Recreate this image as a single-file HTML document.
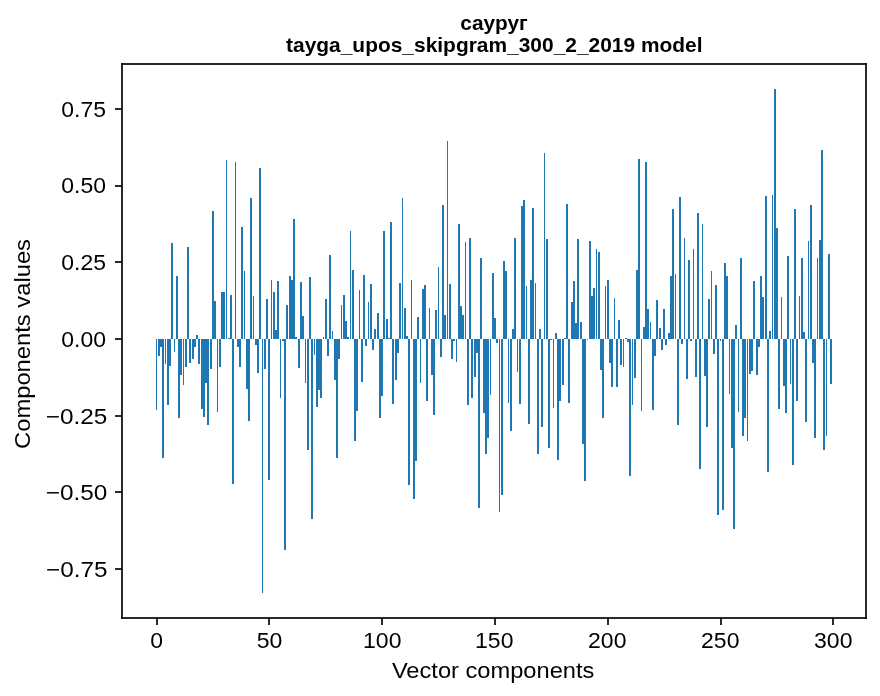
<!DOCTYPE html>
<html><head><meta charset="utf-8"><title>сауруг tayga_upos_skipgram_300_2_2019 model</title><style>
html,body{margin:0;padding:0;background:#fff;overflow:hidden;}
svg{display:block;will-change:transform;}
text{font-family:"Liberation Sans",sans-serif;fill:#000;}
.b{font-weight:bold;}
</style></head><body>
<svg width="880" height="696" viewBox="0 0 880 696">
<rect x="0" y="0" width="880" height="696" fill="#fff"/>
<g fill="#1f77b4" shape-rendering="crispEdges"><rect x="156" y="339" width="1" height="71"/><rect x="158" y="339" width="2" height="17"/><rect x="160" y="339" width="2" height="8"/><rect x="162" y="339" width="2" height="119"/><rect x="165" y="339" width="1" height="25"/><rect x="167" y="339" width="2" height="66"/><rect x="169" y="339" width="2" height="27"/><rect x="171" y="243" width="2" height="96"/><rect x="174" y="339" width="1" height="13"/><rect x="176" y="276" width="2" height="63"/><rect x="178" y="339" width="2" height="79"/><rect x="180" y="339" width="2" height="36"/><rect x="183" y="339" width="1" height="46"/><rect x="185" y="339" width="2" height="28"/><rect x="187" y="247" width="2" height="92"/><rect x="189" y="339" width="2" height="24"/><rect x="192" y="339" width="2" height="20"/><rect x="194" y="339" width="2" height="8"/><rect x="196" y="335" width="2" height="4"/><rect x="198" y="339" width="2" height="25"/><rect x="201" y="339" width="2" height="70"/><rect x="203" y="339" width="2" height="78"/><rect x="205" y="339" width="2" height="44"/><rect x="207" y="339" width="2" height="86"/><rect x="210" y="339" width="2" height="30"/><rect x="212" y="211" width="2" height="128"/><rect x="214" y="301" width="2" height="38"/><rect x="217" y="339" width="1" height="73"/><rect x="219" y="339" width="2" height="28"/><rect x="221" y="292" width="4" height="47"/><rect x="226" y="160" width="1" height="179"/><rect x="228" y="338" width="2" height="1"/><rect x="230" y="295" width="2" height="44"/><rect x="232" y="339" width="2" height="145"/><rect x="235" y="162" width="1" height="177"/><rect x="237" y="339" width="2" height="8"/><rect x="239" y="339" width="2" height="28"/><rect x="241" y="227" width="2" height="112"/><rect x="244" y="271" width="1" height="68"/><rect x="246" y="339" width="2" height="50"/><rect x="248" y="339" width="2" height="82"/><rect x="250" y="198" width="2" height="141"/><rect x="253" y="296" width="1" height="43"/><rect x="255" y="339" width="2" height="6"/><rect x="257" y="339" width="2" height="34"/><rect x="259" y="168" width="2" height="171"/><rect x="262" y="339" width="1" height="254"/><rect x="264" y="339" width="2" height="30"/><rect x="266" y="299" width="2" height="40"/><rect x="268" y="339" width="2" height="141"/><rect x="271" y="280" width="1" height="59"/><rect x="273" y="292" width="2" height="47"/><rect x="275" y="330" width="2" height="9"/><rect x="277" y="281" width="2" height="58"/><rect x="280" y="339" width="1" height="59"/><rect x="282" y="339" width="2" height="2"/><rect x="284" y="339" width="2" height="211"/><rect x="286" y="305" width="2" height="34"/><rect x="289" y="276" width="2" height="63"/><rect x="291" y="280" width="2" height="59"/><rect x="293" y="219" width="2" height="120"/><rect x="295" y="337" width="2" height="2"/><rect x="298" y="339" width="2" height="29"/><rect x="300" y="282" width="2" height="57"/><rect x="302" y="316" width="2" height="23"/><rect x="305" y="339" width="1" height="44"/><rect x="307" y="339" width="2" height="111"/><rect x="309" y="277" width="2" height="62"/><rect x="311" y="339" width="2" height="180"/><rect x="314" y="339" width="1" height="16"/><rect x="316" y="339" width="2" height="68"/><rect x="318" y="339" width="2" height="51"/><rect x="320" y="339" width="2" height="59"/><rect x="323" y="337" width="1" height="2"/><rect x="325" y="299" width="2" height="40"/><rect x="327" y="339" width="2" height="17"/><rect x="329" y="255" width="2" height="84"/><rect x="332" y="331" width="1" height="8"/><rect x="334" y="339" width="2" height="41"/><rect x="336" y="339" width="2" height="119"/><rect x="338" y="339" width="2" height="20"/><rect x="341" y="305" width="1" height="34"/><rect x="343" y="295" width="2" height="44"/><rect x="345" y="321" width="2" height="18"/><rect x="347" y="337" width="2" height="2"/><rect x="350" y="231" width="1" height="108"/><rect x="352" y="270" width="2" height="69"/><rect x="354" y="339" width="2" height="102"/><rect x="356" y="339" width="2" height="72"/><rect x="359" y="290" width="1" height="49"/><rect x="361" y="339" width="2" height="43"/><rect x="363" y="275" width="2" height="64"/><rect x="365" y="339" width="2" height="7"/><rect x="368" y="302" width="1" height="37"/><rect x="370" y="284" width="2" height="55"/><rect x="372" y="339" width="2" height="11"/><rect x="374" y="329" width="2" height="10"/><rect x="377" y="313" width="2" height="26"/><rect x="379" y="339" width="2" height="79"/><rect x="381" y="339" width="2" height="57"/><rect x="383" y="231" width="2" height="108"/><rect x="386" y="319" width="2" height="20"/><rect x="388" y="338" width="2" height="1"/><rect x="390" y="222" width="2" height="117"/><rect x="392" y="339" width="2" height="65"/><rect x="395" y="339" width="2" height="41"/><rect x="397" y="339" width="2" height="14"/><rect x="399" y="283" width="2" height="56"/><rect x="402" y="198" width="1" height="141"/><rect x="404" y="308" width="2" height="31"/><rect x="406" y="336" width="2" height="3"/><rect x="408" y="339" width="2" height="146"/><rect x="411" y="280" width="1" height="59"/><rect x="413" y="339" width="2" height="160"/><rect x="415" y="339" width="2" height="122"/><rect x="417" y="317" width="2" height="22"/><rect x="420" y="339" width="1" height="44"/><rect x="422" y="289" width="2" height="50"/><rect x="424" y="285" width="2" height="54"/><rect x="426" y="339" width="2" height="62"/><rect x="429" y="308" width="1" height="31"/><rect x="431" y="339" width="2" height="36"/><rect x="433" y="339" width="2" height="76"/><rect x="435" y="310" width="2" height="29"/><rect x="438" y="267" width="1" height="72"/><rect x="440" y="339" width="2" height="18"/><rect x="442" y="205" width="2" height="134"/><rect x="444" y="315" width="2" height="24"/><rect x="447" y="141" width="1" height="198"/><rect x="449" y="284" width="2" height="55"/><rect x="451" y="339" width="2" height="20"/><rect x="453" y="339" width="2" height="2"/><rect x="456" y="339" width="1" height="23"/><rect x="458" y="224" width="2" height="115"/><rect x="460" y="306" width="2" height="33"/><rect x="462" y="315" width="2" height="24"/><rect x="465" y="242" width="1" height="97"/><rect x="467" y="339" width="2" height="66"/><rect x="469" y="238" width="2" height="101"/><rect x="471" y="339" width="2" height="59"/><rect x="474" y="339" width="2" height="38"/><rect x="476" y="339" width="2" height="14"/><rect x="478" y="339" width="2" height="169"/><rect x="480" y="258" width="2" height="81"/><rect x="483" y="339" width="2" height="74"/><rect x="485" y="339" width="2" height="115"/><rect x="487" y="339" width="2" height="99"/><rect x="490" y="339" width="1" height="56"/><rect x="492" y="273" width="2" height="66"/><rect x="494" y="318" width="2" height="21"/><rect x="496" y="339" width="2" height="4"/><rect x="499" y="339" width="1" height="173"/><rect x="501" y="339" width="2" height="156"/><rect x="503" y="261" width="2" height="78"/><rect x="505" y="271" width="2" height="68"/><rect x="508" y="339" width="1" height="64"/><rect x="510" y="339" width="2" height="92"/><rect x="512" y="329" width="2" height="10"/><rect x="514" y="238" width="2" height="101"/><rect x="517" y="339" width="1" height="33"/><rect x="519" y="339" width="2" height="65"/><rect x="521" y="206" width="2" height="133"/><rect x="523" y="200" width="2" height="139"/><rect x="526" y="286" width="1" height="53"/><rect x="528" y="339" width="2" height="85"/><rect x="530" y="280" width="2" height="59"/><rect x="532" y="208" width="2" height="131"/><rect x="535" y="283" width="1" height="56"/><rect x="537" y="339" width="2" height="115"/><rect x="539" y="329" width="2" height="10"/><rect x="541" y="339" width="2" height="88"/><rect x="544" y="153" width="1" height="186"/><rect x="546" y="239" width="2" height="100"/><rect x="548" y="339" width="2" height="109"/><rect x="550" y="339" width="2" height="1"/><rect x="553" y="339" width="1" height="69"/><rect x="555" y="333" width="2" height="6"/><rect x="557" y="339" width="2" height="121"/><rect x="559" y="339" width="2" height="62"/><rect x="562" y="339" width="2" height="46"/><rect x="564" y="338" width="2" height="1"/><rect x="566" y="204" width="2" height="135"/><rect x="568" y="339" width="2" height="64"/><rect x="571" y="302" width="2" height="37"/><rect x="573" y="281" width="2" height="58"/><rect x="575" y="323" width="2" height="16"/><rect x="577" y="239" width="2" height="100"/><rect x="580" y="322" width="2" height="17"/><rect x="582" y="339" width="2" height="105"/><rect x="584" y="339" width="2" height="142"/><rect x="587" y="339" width="1" height="1"/><rect x="589" y="241" width="2" height="98"/><rect x="591" y="296" width="2" height="43"/><rect x="593" y="288" width="2" height="51"/><rect x="596" y="249" width="1" height="90"/><rect x="598" y="252" width="2" height="87"/><rect x="600" y="339" width="2" height="31"/><rect x="602" y="339" width="2" height="79"/><rect x="605" y="286" width="1" height="53"/><rect x="607" y="280" width="2" height="59"/><rect x="609" y="339" width="2" height="24"/><rect x="611" y="339" width="2" height="48"/><rect x="614" y="298" width="1" height="41"/><rect x="616" y="339" width="2" height="48"/><rect x="618" y="320" width="2" height="19"/><rect x="620" y="339" width="2" height="26"/><rect x="623" y="339" width="1" height="28"/><rect x="625" y="338" width="2" height="1"/><rect x="627" y="339" width="2" height="3"/><rect x="629" y="339" width="2" height="137"/><rect x="632" y="339" width="1" height="66"/><rect x="634" y="339" width="2" height="39"/><rect x="636" y="270" width="2" height="69"/><rect x="638" y="159" width="2" height="180"/><rect x="641" y="339" width="1" height="72"/><rect x="643" y="327" width="2" height="12"/><rect x="645" y="162" width="2" height="177"/><rect x="647" y="309" width="2" height="30"/><rect x="650" y="322" width="1" height="17"/><rect x="652" y="339" width="2" height="71"/><rect x="654" y="339" width="2" height="17"/><rect x="656" y="300" width="2" height="39"/><rect x="659" y="328" width="2" height="11"/><rect x="661" y="339" width="2" height="11"/><rect x="663" y="309" width="2" height="30"/><rect x="665" y="339" width="2" height="6"/><rect x="668" y="333" width="2" height="6"/><rect x="670" y="276" width="2" height="63"/><rect x="672" y="209" width="2" height="130"/><rect x="675" y="274" width="1" height="65"/><rect x="677" y="339" width="2" height="86"/><rect x="679" y="197" width="2" height="142"/><rect x="681" y="339" width="2" height="5"/><rect x="684" y="238" width="1" height="101"/><rect x="686" y="339" width="2" height="40"/><rect x="688" y="260" width="2" height="79"/><rect x="690" y="339" width="2" height="2"/><rect x="693" y="249" width="1" height="90"/><rect x="695" y="339" width="2" height="38"/><rect x="697" y="213" width="2" height="126"/><rect x="699" y="339" width="2" height="130"/><rect x="702" y="224" width="1" height="115"/><rect x="704" y="339" width="2" height="37"/><rect x="706" y="339" width="2" height="88"/><rect x="708" y="299" width="2" height="40"/><rect x="711" y="271" width="1" height="68"/><rect x="713" y="339" width="2" height="15"/><rect x="715" y="285" width="2" height="54"/><rect x="717" y="339" width="2" height="176"/><rect x="720" y="339" width="1" height="2"/><rect x="722" y="339" width="2" height="171"/><rect x="724" y="263" width="2" height="76"/><rect x="726" y="276" width="2" height="63"/><rect x="729" y="339" width="1" height="55"/><rect x="731" y="339" width="2" height="109"/><rect x="733" y="339" width="2" height="190"/><rect x="735" y="325" width="2" height="14"/><rect x="738" y="339" width="1" height="73"/><rect x="740" y="258" width="2" height="81"/><rect x="742" y="339" width="2" height="97"/><rect x="744" y="339" width="2" height="79"/><rect x="747" y="339" width="1" height="102"/><rect x="749" y="339" width="2" height="35"/><rect x="751" y="339" width="2" height="32"/><rect x="753" y="281" width="2" height="58"/><rect x="756" y="339" width="2" height="36"/><rect x="758" y="339" width="2" height="8"/><rect x="760" y="276" width="2" height="63"/><rect x="762" y="297" width="2" height="42"/><rect x="765" y="196" width="2" height="143"/><rect x="767" y="339" width="2" height="133"/><rect x="769" y="331" width="2" height="8"/><rect x="772" y="195" width="1" height="144"/><rect x="774" y="89" width="2" height="250"/><rect x="776" y="228" width="2" height="111"/><rect x="778" y="339" width="2" height="70"/><rect x="781" y="297" width="1" height="42"/><rect x="783" y="339" width="2" height="47"/><rect x="785" y="339" width="2" height="74"/><rect x="787" y="256" width="2" height="83"/><rect x="790" y="339" width="1" height="45"/><rect x="792" y="339" width="2" height="126"/><rect x="794" y="209" width="2" height="130"/><rect x="796" y="339" width="2" height="62"/><rect x="799" y="296" width="1" height="43"/><rect x="801" y="258" width="2" height="81"/><rect x="803" y="332" width="2" height="7"/><rect x="805" y="339" width="2" height="83"/><rect x="808" y="241" width="1" height="98"/><rect x="810" y="205" width="2" height="134"/><rect x="812" y="339" width="2" height="24"/><rect x="814" y="339" width="2" height="99"/><rect x="817" y="258" width="1" height="81"/><rect x="819" y="240" width="2" height="99"/><rect x="821" y="150" width="2" height="189"/><rect x="823" y="339" width="2" height="111"/><rect x="826" y="339" width="1" height="97"/><rect x="828" y="254" width="2" height="85"/><rect x="830" y="339" width="2" height="45"/></g>
<g fill="#2a2a2a" shape-rendering="crispEdges">
<rect x="121" y="63" width="746" height="2"/>
<rect x="121" y="617" width="746" height="2"/>
<rect x="121" y="63" width="2" height="556"/>
<rect x="865" y="63" width="2" height="556"/>
<rect x="115" y="108" width="6" height="2"/><rect x="115" y="185" width="6" height="2"/><rect x="115" y="261" width="6" height="2"/><rect x="115" y="338" width="6" height="2"/><rect x="115" y="415" width="6" height="2"/><rect x="115" y="491" width="6" height="2"/><rect x="115" y="568" width="6" height="2"/><rect x="156" y="619" width="2" height="6"/><rect x="268" y="619" width="2" height="6"/><rect x="381" y="619" width="2" height="6"/><rect x="494" y="619" width="2" height="6"/><rect x="607" y="619" width="2" height="6"/><rect x="720" y="619" width="2" height="6"/><rect x="832" y="619" width="2" height="6"/>
<rect x="121" y="63" width="1" height="1" fill="rgb(23,23,23)"/><rect x="122" y="63" width="1" height="1" fill="rgb(12,12,12)"/><rect x="865" y="63" width="1" height="1" fill="rgb(12,12,12)"/><rect x="866" y="63" width="1" height="1" fill="rgb(23,23,23)"/><rect x="121" y="64" width="1" height="1" fill="rgb(12,12,12)"/><rect x="122" y="64" width="1" height="1" fill="rgb(7,7,7)"/><rect x="865" y="64" width="1" height="1" fill="rgb(7,7,7)"/><rect x="866" y="64" width="1" height="1" fill="rgb(12,12,12)"/><rect x="121" y="108" width="1" height="1" fill="rgb(7,7,7)"/><rect x="121" y="109" width="1" height="1" fill="rgb(7,7,7)"/><rect x="121" y="185" width="1" height="1" fill="rgb(7,7,7)"/><rect x="121" y="186" width="1" height="1" fill="rgb(7,7,7)"/><rect x="121" y="261" width="1" height="1" fill="rgb(7,7,7)"/><rect x="121" y="262" width="1" height="1" fill="rgb(7,7,7)"/><rect x="121" y="338" width="1" height="1" fill="rgb(7,7,7)"/><rect x="121" y="339" width="1" height="1" fill="rgb(7,7,7)"/><rect x="121" y="415" width="1" height="1" fill="rgb(7,7,7)"/><rect x="121" y="416" width="1" height="1" fill="rgb(7,7,7)"/><rect x="121" y="491" width="1" height="1" fill="rgb(7,7,7)"/><rect x="121" y="492" width="1" height="1" fill="rgb(7,7,7)"/><rect x="121" y="568" width="1" height="1" fill="rgb(7,7,7)"/><rect x="121" y="569" width="1" height="1" fill="rgb(7,7,7)"/><rect x="121" y="617" width="1" height="1" fill="rgb(12,12,12)"/><rect x="122" y="617" width="1" height="1" fill="rgb(7,7,7)"/><rect x="865" y="617" width="1" height="1" fill="rgb(7,7,7)"/><rect x="866" y="617" width="1" height="1" fill="rgb(12,12,12)"/><rect x="121" y="618" width="1" height="1" fill="rgb(23,23,23)"/><rect x="122" y="618" width="1" height="1" fill="rgb(12,12,12)"/><rect x="156" y="618" width="1" height="1" fill="rgb(7,7,7)"/><rect x="157" y="618" width="1" height="1" fill="rgb(7,7,7)"/><rect x="268" y="618" width="1" height="1" fill="rgb(7,7,7)"/><rect x="269" y="618" width="1" height="1" fill="rgb(7,7,7)"/><rect x="381" y="618" width="1" height="1" fill="rgb(7,7,7)"/><rect x="382" y="618" width="1" height="1" fill="rgb(7,7,7)"/><rect x="494" y="618" width="1" height="1" fill="rgb(7,7,7)"/><rect x="495" y="618" width="1" height="1" fill="rgb(7,7,7)"/><rect x="607" y="618" width="1" height="1" fill="rgb(7,7,7)"/><rect x="608" y="618" width="1" height="1" fill="rgb(7,7,7)"/><rect x="720" y="618" width="1" height="1" fill="rgb(7,7,7)"/><rect x="721" y="618" width="1" height="1" fill="rgb(7,7,7)"/><rect x="832" y="618" width="1" height="1" fill="rgb(7,7,7)"/><rect x="833" y="618" width="1" height="1" fill="rgb(7,7,7)"/><rect x="865" y="618" width="1" height="1" fill="rgb(12,12,12)"/><rect x="866" y="618" width="1" height="1" fill="rgb(23,23,23)"/>
</g>
<g>
<text transform="translate(106.00,116.90) scale(1,0.9850)" text-anchor="end" style="font-size:21.63px" textLength="44.75" lengthAdjust="spacingAndGlyphs">0.75</text>
<text transform="translate(106.00,193.40) scale(1,0.9850)" text-anchor="end" style="font-size:21.63px" textLength="44.75" lengthAdjust="spacingAndGlyphs">0.50</text>
<text transform="translate(106.00,269.90) scale(1,0.9850)" text-anchor="end" style="font-size:21.63px" textLength="44.75" lengthAdjust="spacingAndGlyphs">0.25</text>
<text transform="translate(106.00,346.90) scale(1,0.9850)" text-anchor="end" style="font-size:21.63px" textLength="44.75" lengthAdjust="spacingAndGlyphs">0.00</text>
<text transform="translate(107.25,423.90) scale(1,0.9850)" text-anchor="end" style="font-size:21.63px" textLength="61.60" lengthAdjust="spacingAndGlyphs">−0.25</text>
<text transform="translate(107.25,499.90) scale(1,0.9850)" text-anchor="end" style="font-size:21.63px" textLength="61.60" lengthAdjust="spacingAndGlyphs">−0.50</text>
<text transform="translate(107.50,576.90) scale(1,0.9850)" text-anchor="end" style="font-size:21.63px" textLength="61.60" lengthAdjust="spacingAndGlyphs">−0.75</text>
<text transform="translate(156.75,647.60) scale(1,1.0300)" text-anchor="middle" style="font-size:21.83px" textLength="12.79" lengthAdjust="spacingAndGlyphs">0</text>
<text transform="translate(269.50,647.60) scale(1,1.0300)" text-anchor="middle" style="font-size:21.83px" textLength="25.57" lengthAdjust="spacingAndGlyphs">50</text>
<text transform="translate(382.25,647.60) scale(1,1.0300)" text-anchor="middle" style="font-size:21.83px" textLength="38.36" lengthAdjust="spacingAndGlyphs">100</text>
<text transform="translate(494.25,647.60) scale(1,1.0300)" text-anchor="middle" style="font-size:21.83px" textLength="38.36" lengthAdjust="spacingAndGlyphs">150</text>
<text transform="translate(607.25,647.60) scale(1,1.0300)" text-anchor="middle" style="font-size:21.83px" textLength="38.36" lengthAdjust="spacingAndGlyphs">200</text>
<text transform="translate(720.25,647.60) scale(1,1.0300)" text-anchor="middle" style="font-size:21.83px" textLength="38.36" lengthAdjust="spacingAndGlyphs">250</text>
<text transform="translate(833.25,647.60) scale(1,1.0300)" text-anchor="middle" style="font-size:21.83px" textLength="38.36" lengthAdjust="spacingAndGlyphs">300</text>
<text transform="translate(493.15,677.60) scale(1,1.0600)" text-anchor="middle" style="font-size:21.23px" textLength="202.50" lengthAdjust="spacingAndGlyphs">Vector components</text>
<text transform="translate(29.55,344.01) rotate(-90) scale(1,1.0450)" text-anchor="middle" style="font-size:21.23px" textLength="210.00" lengthAdjust="spacingAndGlyphs">Components values</text>
<text class="b" transform="translate(493.90,30.26)" text-anchor="middle" style="font-size:21.03px" textLength="67.55" lengthAdjust="spacingAndGlyphs">сауруг</text>
<text class="b" transform="translate(494.30,52.10) scale(1,0.9700)" text-anchor="middle" style="font-size:21.43px" textLength="416.50" lengthAdjust="spacingAndGlyphs">tayga_upos_skipgram_300_2_2019 model</text>
</g>
</svg>
</body></html>
